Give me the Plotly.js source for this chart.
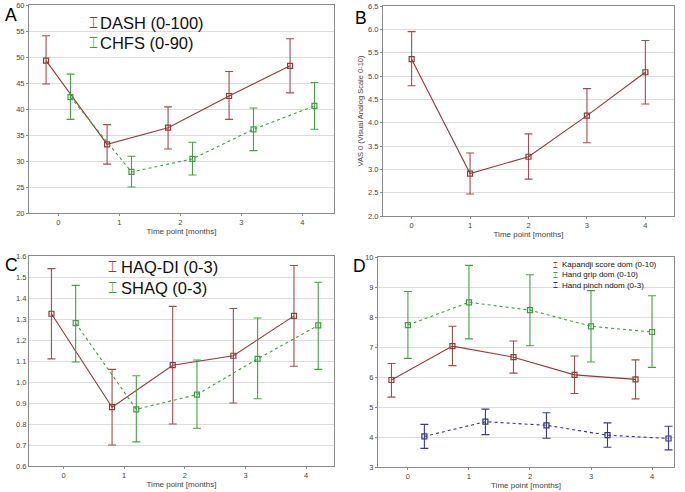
<!DOCTYPE html>
<html><head><meta charset="utf-8">
<script src="https://cdn.plot.ly/plotly-3.0.1.min.js"></script>
<style>html,body{margin:0;padding:0;background:#fff}#chart{width:685px;height:492px}</style>
</head><body><div id="chart"></div>
<script>
// ---- data ----
const timepoints = [0, 1, 2, 3, 4];

const dashMean  = [49.3, 33.2, 36.4, 42.5, 48.3];
const dashLow   = [44.8, 29.4, 32.3, 38.0, 43.1];
const dashHigh  = [54.1, 37.0, 40.4, 47.2, 53.5];
const chfsMean  = [42.3, 27.9, 30.4, 36.1, 40.6];
const chfsLow   = [38.0, 25.0, 27.3, 32.0, 36.1];
const chfsHigh  = [46.7, 30.9, 33.6, 40.2, 45.1];

const vasMean   = [5.36, 2.91, 3.27, 4.15, 5.08];
const vasLow    = [4.79, 2.47, 2.79, 3.57, 4.40];
const vasHigh   = [5.95, 3.35, 3.76, 4.73, 5.76];

const haqMean   = [1.325, 0.88, 1.08, 1.125, 1.315];
const haqLow    = [1.11, 0.70, 0.80, 0.90, 1.075];
const haqHigh   = [1.54, 1.06, 1.36, 1.35, 1.555];
const shaqMean  = [1.28, 0.87, 0.94, 1.11, 1.27];
const shaqLow   = [1.095, 0.715, 0.78, 0.92, 1.06];
const shaqHigh  = [1.46, 1.03, 1.105, 1.305, 1.475];

const kapMean   = [5.90, 7.03, 6.66, 6.07, 5.92];
const kapLow    = [5.33, 6.38, 6.13, 5.45, 5.27];
const kapHigh   = [6.45, 7.69, 7.20, 6.70, 6.57];
const gripMean  = [7.73, 8.49, 8.23, 7.69, 7.50];
const gripLow   = [6.62, 7.27, 7.04, 6.50, 6.32];
const gripHigh  = [8.85, 9.72, 9.41, 8.88, 8.71];
const pinchMean = [4.02, 4.51, 4.39, 4.06, 3.95];
const pinchLow  = [3.62, 4.08, 3.96, 3.66, 3.57];
const pinchHigh = [4.42, 4.93, 4.81, 4.47, 4.36];

const seriesNames = ['DASH (0-100)', 'CHFS (0-90)', 'VAS 0', 'HAQ-DI (0-3)', 'SHAQ (0-3)',
  'Kapandji score dom (0-10)', 'Hand grip dom (0-10)', 'Hand pinch ndom (0-3)'];
const panelLabels = ['A', 'B', 'C', 'D'];
const xTitle = 'Time point [months]';
const vasTitle = 'VAS 0 (Visual Analog Scale 0-10)';

// ---- styles ----
const RED = '#8e3b3b', RED_E = '#a04d4d';
const GREEN = '#3f9f3f', GREEN_E = '#45a345';
const BLUE = '#34348f', BLUE_E = '#3a3a96';
const FONT = 'Liberation Sans, Arial, sans-serif';

function tr(name, offset, mean, low, high, color, ecolor, dash, xa, ya) {
  return {
    type: 'scatter', mode: 'lines+markers', name: name, showlegend: false,
    x: timepoints.map(t => t + offset), y: mean,
    xaxis: xa, yaxis: ya,
    line: {color: color, width: 1.1, dash: dash},
    marker: {symbol: 'square-open', size: 5, color: color, line: {width: 1.2, color: color}},
    error_y: {type: 'data', symmetric: false,
      array: high.map((h, i) => h - mean[i]),
      arrayminus: mean.map((m, i) => m - low[i]),
      color: ecolor, thickness: 1.1, width: 4}
  };
}

const data = [
  tr(seriesNames[0], -0.2, dashMean, dashLow, dashHigh, RED, RED_E, 'solid', 'x', 'y'),
  tr(seriesNames[1], 0.2, chfsMean, chfsLow, chfsHigh, GREEN, GREEN_E, 'dot', 'x', 'y'),
  tr(seriesNames[2], 0, vasMean, vasLow, vasHigh, RED, RED_E, 'solid', 'x2', 'y2'),
  tr(seriesNames[3], -0.2, haqMean, haqLow, haqHigh, RED, RED_E, 'solid', 'x3', 'y3'),
  tr(seriesNames[4], 0.2, shaqMean, shaqLow, shaqHigh, GREEN, GREEN_E, 'dot', 'x3', 'y3'),
  tr(seriesNames[5], -0.27, kapMean, kapLow, kapHigh, RED, RED_E, 'solid', 'x4', 'y4'),
  tr(seriesNames[6], 0, gripMean, gripLow, gripHigh, GREEN, GREEN_E, 'dot', 'x4', 'y4'),
  tr(seriesNames[7], 0.27, pinchMean, pinchLow, pinchHigh, BLUE, BLUE_E, 'dot', 'x4', 'y4')
];

const W = 685, H = 492;
function xd(l, r) { return [l / W, r / W]; }
function yd(t, b) { return [1 - b / H, 1 - t / H]; }

function xax(dom, range, anchor) {
  return {domain: dom, range: range, anchor: anchor, tickvals: timepoints, ticktext: timepoints.map(String),
    showgrid: false, zeroline: false, showline: true, mirror: true, linecolor: '#8a8a8a', linewidth: 1,
    ticks: 'outside', ticklen: 2, tickcolor: '#8a8a8a',
    tickfont: {family: FONT, size: 7.5, color: '#444'},
    title: {text: xTitle, font: {family: FONT, size: 8, color: '#444'}, standoff: 0}};
}
function yax(dom, range, dtick, anchor, fmt, tlen) {
  return {domain: dom, range: range, dtick: dtick, tick0: range[0], anchor: anchor, tickformat: fmt,
    showgrid: true, gridcolor: '#dcdcdc', gridwidth: 1, zeroline: false,
    showline: true, mirror: true, linecolor: '#8a8a8a', linewidth: 1,
    ticks: tlen > 0 ? 'outside' : '', ticklen: tlen, tickcolor: '#8a8a8a',
    tickfont: {family: FONT, size: 7.5, color: '#444'}};
}

function ann(text, px, py, xanchor, size, color, pad) {
  return {text: text, x: px / W, y: 1 - py / H, xref: 'paper', yref: 'paper', xanchor: xanchor, yanchor: 'middle',
    showarrow: false, borderpad: pad, align: 'left', font: {family: FONT, size: size, color: color}};
}
function glyph(color) { return '<span style="color:' + color + '">⌶</span>'; }
// legend entries: symbol glyph + label
function legendEntry(name, color, symX, textX, py, size) {
  return [ann(glyph(color), symX, py, 'center', size * 0.9, color, 0), ann(name, textX, py, 'left', size, '#111', 0)];
}

const layout = {
  width: W, height: H, margin: {l: 0, r: 0, t: 0, b: 0},
  paper_bgcolor: '#fff', plot_bgcolor: '#fff',
  font: {family: FONT}, showlegend: false,
  xaxis: xax(xd(29, 334), [-0.48, 4.52], 'y'),
  yaxis: yax(yd(5, 213), [20, 60], 5, 'x', '', 2),
  xaxis2: xax(xd(383, 674), [-0.49, 4.49], 'y2'),
  yaxis2: Object.assign(yax(yd(6, 216), [2, 6.5], 0.5, 'x2', '.1f', 2),
    {title: {text: vasTitle, font: {family: FONT, size: 7.5, color: '#444'}, standoff: 3}}),
  xaxis3: xax(xd(29, 334), [-0.57, 4.46], 'y3'),
  yaxis3: yax(yd(256, 466), [0.6, 1.6], 0.1, 'x3', '.1f', 0),
  xaxis4: xax(xd(378, 674), [-0.49, 4.36], 'y4'),
  yaxis4: yax(yd(257, 467), [3, 10], 1, 'x4', '', 2),
  annotations: [
    ann(panelLabels[0], 11, 15, 'center', 17.5, '#000', 0),
    ann(panelLabels[1], 361, 18, 'center', 17.5, '#000', 0),
    ann(panelLabels[2], 11, 265, 'center', 17.5, '#000', 0),
    ann(panelLabels[3], 359.5, 266, 'center', 17.5, '#000', 0),
    ...legendEntry(seriesNames[0], RED, 93, 99, 23, 16.5),
    ...legendEntry(seriesNames[1], GREEN, 93, 99, 43, 16.5),
    ...legendEntry(seriesNames[3], RED, 113, 120, 267, 16.5),
    ...legendEntry(seriesNames[4], GREEN, 113, 120, 287.5, 16.5),
    // panel D legend as one three-line block (tight spacing as in the reference)
    ann([RED, GREEN, BLUE].map(glyph).join('<br>'), 555, 275, 'center', 7.5, '#111', 0),
    ann([seriesNames[5], seriesNames[6], seriesNames[7]].join('<br>'), 560.5, 275, 'left', 8, '#111', 0)
  ]
};

Plotly.newPlot('chart', data, layout, {staticPlot: true});
</script></body></html>
